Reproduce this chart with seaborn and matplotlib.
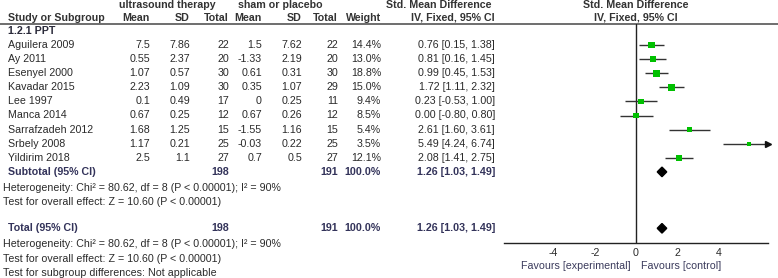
import matplotlib
matplotlib.use('Agg')
import matplotlib.pyplot as plt
import seaborn as sns
import pandas as pd

studies = ['Aguilera 2009', 'Ay 2011', 'Esenyel 2000', 'Kavadar 2015', 'Lee 1997',
           'Manca 2014', 'Sarrafzadeh 2012', 'Srbely 2008', 'Yildirim 2018']
us_mean = [7.5, 0.55, 1.07, 2.23, 0.1, 0.67, 1.68, 1.17, 2.5]
us_sd = [7.86, 2.37, 0.57, 1.09, 0.49, 0.25, 1.25, 0.21, 1.1]
us_n = [22, 20, 30, 30, 17, 12, 15, 25, 27]
sh_mean = [1.5, -1.33, 0.61, 0.35, 0, 0.67, -1.55, -0.03, 0.7]
sh_sd = [7.62, 2.19, 0.31, 1.07, 0.25, 0.26, 1.16, 0.22, 0.5]
sh_n = [22, 20, 30, 29, 11, 12, 15, 25, 27]
weight = [14.4, 13.0, 18.8, 15.0, 9.4, 8.5, 5.4, 3.5, 12.1]
smd = [0.76, 0.81, 0.99, 1.72, 0.23, 0.00, 2.61, 5.49, 2.08]
ci_lo = [0.15, 0.16, 0.45, 1.11, -0.53, -0.80, 1.60, 4.24, 1.41]
ci_hi = [1.38, 1.45, 1.53, 2.32, 1.00, 0.80, 3.61, 6.74, 2.75]
pooled = [1.26, 1.03, 1.49]
total_us, total_sh, total_weight = 198, 191, 100.0
x_ticks = [-4, -2, 0, 2, 4]

heterogeneity = 'Heterogeneity: Chi\u00b2 = 80.62, df = 8 (P < 0.00001); I\u00b2 = 90%'
overall = 'Test for overall effect: Z = 10.60 (P < 0.00001)'
subgroup = 'Test for subgroup differences: Not applicable'

W, H = 778, 278
XMAX = 6.4
ROW0, STEP = 45, 14.1  # pixel y of first study row, row spacing

sns.set_style('white')
plt.rcParams['font.family'] = ['Liberation Sans', 'DejaVu Sans']
fig = plt.figure(figsize=(W / 100, H / 100), dpi=100)

# text layer in pixel coordinates
tx = fig.add_axes([0, 0, 1, 1])
tx.set_xlim(0, W)
tx.set_ylim(H, 0)
tx.axis('off')

FS = 7.7
HDR = '#333333'
SUB = '#33335a'
TXT = '#2a2a2a'


def ry(i):
    return ROW0 + STEP * i


def t(x, y, s, ha='left', **kw):
    kw.setdefault('color', TXT)
    kw.setdefault('fontsize', FS)
    tx.text(x, y, s, ha=ha, va='center', **kw)


# headers
t(167, 5, 'ultrasound therapy', ha='center', weight='bold', color=HDR)
t(280, 5, 'sham or placebo', ha='center', weight='bold', color=HDR)
t(439, 5, 'Std. Mean Difference', ha='center', weight='bold', color=HDR)
t(636, 5, 'Std. Mean Difference', ha='center', weight='bold', color=HDR)
t(8, 18, 'Study or Subgroup', weight='bold', color=HDR)
for xr, lab in [(150, 'Mean'), (190, 'SD'), (229, 'Total'), (262, 'Mean'),
                (302, 'SD'), (338, 'Total'), (381, 'Weight'), (495, 'IV, Fixed, 95% CI')]:
    t(xr, 18, lab, ha='right', weight='bold', color=HDR)
t(636, 18, 'IV, Fixed, 95% CI', ha='center', weight='bold', color=HDR)
tx.plot([0, W], [24, 24], color='#555555', lw=1.2)

t(8, ry(-1), '1.2.1 PPT', weight='bold', color='#2a2a3a')

for i, name in enumerate(studies):
    y = ry(i)
    t(8, y, name)
    t(150, y, f'{us_mean[i]:g}', ha='right')
    t(190, y, f'{us_sd[i]:g}', ha='right')
    t(229, y, f'{us_n[i]}', ha='right')
    t(262, y, f'{sh_mean[i]:g}', ha='right')
    t(302, y, f'{sh_sd[i]:g}', ha='right')
    t(338, y, f'{sh_n[i]}', ha='right')
    t(381, y, f'{weight[i]:.1f}%', ha='right')
    t(495, y, f'{smd[i]:.2f} [{ci_lo[i]:.2f}, {ci_hi[i]:.2f}]', ha='right')

pool_txt = f'{pooled[0]:.2f} [{pooled[1]:.2f}, {pooled[2]:.2f}]'
for i, lab in [(9, 'Subtotal (95% CI)'), (13, 'Total (95% CI)')]:
    y = ry(i)
    t(8, y, lab, weight='bold', color=SUB)
    t(229, y, f'{total_us}', ha='right', weight='bold', color=SUB)
    t(338, y, f'{total_sh}', ha='right', weight='bold', color=SUB)
    t(381, y, f'{total_weight:.1f}%', ha='right', weight='bold', color=SUB)
    t(495, y, pool_txt, ha='right', weight='bold', color=SUB)
    t(3, ry(i + 1) + 2, heterogeneity)
    t(3, ry(i + 2) + 2, overall)
t(3, ry(16) + 2, subgroup)

# forest panel
x0, x1 = 504, 768
ytop, ybot = 24, 242.7
ax = fig.add_axes([x0 / W, 1 - ybot / H, (x1 - x0) / W, (ybot - ytop) / H])
ax.set_xlim(-XMAX, XMAX)
ax.set_ylim((ybot - ROW0) / STEP, (ytop - ROW0) / STEP)
ax.patch.set_alpha(0)
for s in ['top', 'left', 'right']:
    ax.spines[s].set_visible(False)
ax.spines['bottom'].set_color('#222222')
ax.spines['bottom'].set_linewidth(1)
ax.axvline(0, color='#222222', lw=1)

df = pd.DataFrame({'study': studies, 'smd': smd, 'lo': ci_lo, 'hi': ci_hi,
                   'weight': weight, 'row': range(len(studies))})
ax.hlines(df['row'], df['lo'], df['hi'].clip(upper=XMAX), color='#333333', lw=1)
over = df[df['hi'] > XMAX]
ax.plot([XMAX] * len(over), over['row'], marker='>', color='#111111', ms=4.5, ls='none', clip_on=False)
sns.scatterplot(data=df, x='smd', y='row', size='weight', sizes=(9, 28), marker='s',
                color='#00c000', edgecolor='none', legend=False, ax=ax, zorder=3)

for i in (9, 13):
    h = 0.34
    ax.fill([pooled[1], pooled[0], pooled[2], pooled[0]], [i, i - h, i, i + h],
            color='black', zorder=3)

ax.set_xticks(x_ticks)
ax.set_xticklabels([str(v) for v in x_ticks], fontsize=FS, color=TXT)
ax.tick_params(axis='x', direction='inout', length=5, width=1, color='#222222', pad=1)
ax.set_yticks([])
ax.set_xlabel('')
ax.set_ylabel('')

t(631, 266, 'Favours [experimental]', ha='right', color='#3b3b5c')
t(641, 266, 'Favours [control]', color='#3b3b5c')

fig.savefig('out.png', dpi=100)
